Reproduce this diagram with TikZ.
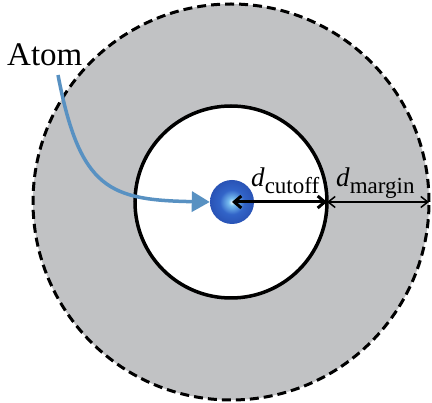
\documentclass[tikz,border=0pt]{standalone}
\usepackage{fontspec}
\setmainfont{Liberation Serif}
\usetikzlibrary{arrows.meta}
\definecolor{shellgray}{RGB}{193,194,196}
\definecolor{curveblue}{RGB}{88,145,194}
\definecolor{ballA}{RGB}{235,250,255}
\definecolor{ballB}{RGB}{120,190,240}
\definecolor{ballC}{RGB}{50,100,200}
\definecolor{ballD}{RGB}{35,72,170}
\definecolor{ballE}{RGB}{22,42,118}
\pgfdeclareradialshading{atomshade}{\pgfpoint{0bp}{0bp}}{%
  color(0bp)=(ballA); color(4bp)=(ballB); color(14bp)=(ballC);
  color(32bp)=(ballD); color(50bp)=(ballE)}
\tikzset{
  shell/.style={circle, draw=black, line width=3pt, dash pattern=on 9pt off 5pt, fill=shellgray, inner sep=0pt, outer sep=0pt, minimum size=396pt},
  core/.style={circle, draw=black, line width=3.5pt, fill=white, inner sep=0pt, outer sep=0pt, minimum size=192pt},
  atomball/.style={circle, shading=atomshade, inner sep=0pt, minimum size=44pt},
  lbl/.style={inner sep=0pt, anchor=base west, font=\fontsize{33}{38}\selectfont},
  dlbl/.style={inner sep=0pt, anchor=base west, font=\fontsize{27}{32}\selectfont},
  pointer/.style={curveblue, line width=3.5pt, -{Triangle[length=18pt,width=20pt]}},
  cutarrow/.style={black, line width=3pt, {Straight Barb[length=7pt,width=12pt]}-{Straight Barb[length=7pt,width=12pt]}},
  marginarrow/.style={black, line width=1.5pt, {Straight Barb[length=7pt,width=11pt]}-{Straight Barb[length=7pt,width=11pt]}}
}
\newcommand{\subtxt}[1]{\raisebox{-7pt}{\fontsize{23}{26}\selectfont #1}}
\begin{document}
\begin{tikzpicture}[x=1pt,y=-1pt]
\useasboundingbox (0,0) rectangle (432,403);
\node[shell] (outer) at (231,202) {};
\node[core] (inner) at (231,202) {};
\node[atomball] (atom) at (232,202) {};
\node[lbl] (atomlabel) at (7,66) {Atom};
\coordinate (start) at (58,75);
\draw[pointer] (start) .. controls (80,190) and (110,200) .. (atom.west);
\draw[cutarrow] (atom.center) -- (inner.east);
\draw[marginarrow] (inner.east) -- (outer.east);
\node[dlbl] (dcut) at (251,187) {\textit{d}\subtxt{cutoff}};
\node[dlbl] (dmar) at (336,187) {\textit{d}\subtxt{margin}};
\end{tikzpicture}
\end{document}
